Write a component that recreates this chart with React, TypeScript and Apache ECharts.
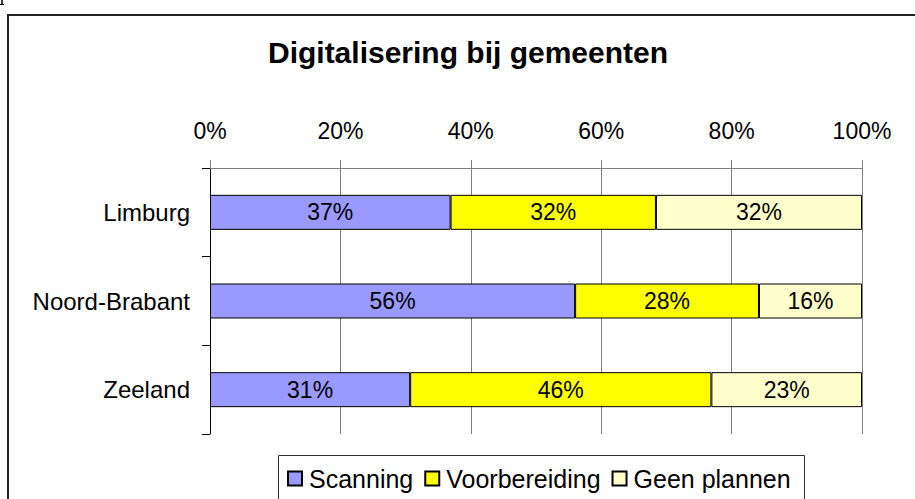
import React, { useEffect, useRef } from "react";
import * as echarts from "echarts";

const categories = ["Limburg", "Noord-Brabant", "Zeeland"];
const seriesNames = ["Scanning", "Voorbereiding", "Geen plannen"];
const scanning = [36.9, 56.0, 30.7];
const voorbereiding = [31.5, 28.2, 46.2];
const geenPlannen = [31.6, 15.8, 23.1];
const colors = ["#9999FF", "#FFFF00", "#FFFFCC"];
const titleText = "Digitalisering bij gemeenten";

const FONT = "'Liberation Sans', Arial, sans-serif";

export default function App() {
  const ref = useRef<HTMLDivElement>(null);
  useEffect(() => {
    if (!ref.current) return;
    const chart = echarts.init(ref.current, null, { renderer: "svg" });
    const values = [scanning, voorbereiding, geenPlannen];
    chart.setOption({
      animation: false,
      backgroundColor: "#ffffff",
      textStyle: { fontFamily: FONT },
      graphic: [
        {
          type: "line",
          shape: { x1: 2, y1: 0, x2: 2, y2: 5 },
          style: { stroke: "#000", lineWidth: 1.5 },
          silent: true,
        },
        {
          type: "line",
          shape: { x1: 0, y1: 4.5, x2: 4, y2: 4.5 },
          style: { stroke: "#000", lineWidth: 1 },
          silent: true,
        },
        {
          type: "rect",
          shape: { x: 8, y: 15, width: 1000, height: 600 },
          style: { fill: "none", stroke: "#222", lineWidth: 2 },
          silent: true,
          z: 0,
        },
        {
          type: "text",
          x: 468,
          y: 52,
          style: {
            text: titleText,
            fontFamily: FONT,
            fontSize: 30,
            fontWeight: "bold",
            fill: "#000",
            textAlign: "center",
            textVerticalAlign: "middle",
          },
        },
        {
          type: "rect",
          shape: { x: 278.5, y: 455.5, width: 526, height: 80 },
          style: { fill: "#fff", stroke: "#333", lineWidth: 1 },
          silent: true,
          z: 1,
        },
      ],
      grid: { left: 210, right: 53, top: 168, bottom: 65, containLabel: false },
      legend: {
        left: 287,
        top: 466,
        itemWidth: 14,
        itemHeight: 14,
        itemGap: 11,
        padding: 0,
        z: 5,
        icon: "rect",
        textStyle: { fontSize: 25, color: "#000", fontFamily: FONT, padding: [0, 0, 0, 2] },
        data: seriesNames,
      },
      xAxis: {
        type: "value",
        position: "top",
        min: 0,
        max: 100,
        interval: 20,
        axisLine: { show: true, lineStyle: { color: "#808080", width: 1 } },
        axisTick: { show: true, length: 8, lineStyle: { color: "#808080" } },
        splitLine: { show: true, lineStyle: { color: "#808080", width: 1 } },
        axisLabel: {
          formatter: "{value}%",
          fontSize: 23,
          color: "#000",
          margin: 26,
          fontFamily: FONT,
        },
      },
      yAxis: {
        type: "category",
        inverse: true,
        data: categories,
        axisLine: { show: true, lineStyle: { color: "#000", width: 1 } },
        axisTick: { show: true, length: 8, lineStyle: { color: "#000" } },
        axisLabel: { fontSize: 24, color: "#000", margin: 20, fontFamily: FONT },
      },
      series: seriesNames.map((name, i) => ({
        name,
        type: "bar",
        stack: "total",
        barWidth: 35,
        data: values[i],
        itemStyle: { color: colors[i], borderColor: "#000", borderWidth: 1 },
        label: {
          show: true,
          position: "inside",
          fontSize: 23,
          color: "#000",
          fontFamily: FONT,
          formatter: (p: any) => Math.round(p.value) + "%",
        },
      })),
    });
    return () => chart.dispose();
  }, []);
  return (
    <div
      ref={ref}
      style={{ position: "absolute", left: 0, top: 0, width: 915, height: 499 }}
    />
  );
}
